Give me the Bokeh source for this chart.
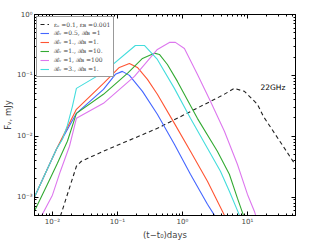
from bokeh.plotting import figure
from bokeh.models import (LogAxis, FixedTicker, CustomJSTickFormatter, Legend,
                          LegendItem, Range1d, Label)
from bokeh.embed import file_html
from bokeh.resources import INLINE

# ---------------- data ----------------
# dashed: eps_e = 0.1, eps_B = 0.001
t_dash = [0.0133, 0.0234, 0.0279, 0.061, 0.412, 4.12, 6.31, 9.0, 14.3, 17.6, 52.8]
F_dash = [0.00049, 0.00322, 0.00389, 0.00568, 0.0135, 0.047, 0.0612, 0.0547, 0.0335, 0.0213, 0.00361]

# R_v = 0.5, R_B = 1
t_blue = [0.00528, 0.01153, 0.0234, 0.061, 0.0931, 0.119, 0.153, 0.243, 0.412, 0.753, 1.33, 2.43, 3.10, 3.7]
F_blue = [0.001, 0.00612, 0.0238, 0.0589, 0.104, 0.1164, 0.1, 0.0547, 0.023, 0.0074, 0.00238, 0.000767, 0.000507, 0.00035]

# R_v = 1., R_B = 1.
t_red = [0.00528, 0.01153, 0.0234, 0.061, 0.107, 0.153, 0.203, 0.29, 0.412, 0.753, 1.33, 2.43, 4.43, 4.9]
F_red = [0.001, 0.00612, 0.0277, 0.0739, 0.135, 0.157, 0.135, 0.086, 0.0489, 0.0163, 0.00567, 0.00183, 0.000507, 0.0004]

# R_v = 1., R_B = 10.
t_green = [0.00528, 0.00838, 0.01194, 0.017, 0.0234, 0.061, 0.1426, 0.243, 0.37, 0.443, 0.588, 0.838, 1.70, 3.45, 5.28, 7.02, 8.67, 9.8]
F_green = [0.000589, 0.00163, 0.00361, 0.00828, 0.0238, 0.0489, 0.108, 0.19, 0.232, 0.221, 0.151, 0.0797, 0.0197, 0.00568, 0.00238, 0.000964, 0.000507, 0.00035]

# R_v = 1, R_B = 100
t_mag = [0.00678, 0.01, 0.01327, 0.0183, 0.0234, 0.061, 0.183, 0.412, 0.631, 0.78, 1.074, 1.70, 2.70, 4.43, 7.02, 10.0, 12.8, 14.3]
F_mag = [0.000489, 0.00108, 0.00267, 0.00686, 0.0197, 0.0348, 0.0963, 0.267, 0.348, 0.348, 0.277, 0.104, 0.0375, 0.0121, 0.00347, 0.00112, 0.000589, 0.000405]

# R_v = 3., R_B = 1.
t_cyan = [0.00528, 0.01153, 0.01426, 0.017, 0.0203, 0.0234, 0.061, 0.189, 0.26, 0.412, 0.753, 1.33, 2.43, 3.85, 5.28, 7.53, 8.4]
F_cyan = [0.001, 0.00612, 0.00893, 0.0151, 0.031, 0.0612, 0.112, 0.31, 0.31, 0.183, 0.0612, 0.0197, 0.00636, 0.00267, 0.00125, 0.000507, 0.00037]

labels = ["\u03b5\u2091 =0.1, \u03b5\u0299 =0.001",
          "\u211b\u1d65 =0.5, \u211b\u0299 =1",
          "\u211b\u1d65 =1., \u211b\u0299 =1.",
          "\u211b\u1d65 =1., \u211b\u0299 =10.",
          "\u211b\u1d65 =1, \u211b\u0299 =100",
          "\u211b\u1d65 =3., \u211b\u0299 =1."]

x_major = [1e-2, 1e-1, 1e0, 1e1]
y_major = [1e-3, 1e-2, 1e-1, 1e0]
x_minor = [m * d for d in [1e-3, 1e-2, 1e-1, 1e0, 1e1] for m in range(2, 10)]
y_minor = [m * d for d in [1e-4, 1e-3, 1e-2, 1e-1] for m in range(2, 10)]

# ---------------- figure ----------------
p = figure(frame_width=261, frame_height=201, x_axis_type="log", y_axis_type="log",
           x_range=Range1d(5.3e-3, 55), y_range=Range1d(5e-4, 1),
           output_backend="svg", toolbar_location=None,
           min_border_left=33, min_border_right=3, min_border_top=14,
           min_border_bottom=24)
p.grid.visible = False
p.outline_line_color = "black"
p.outline_line_width = 1
p.background_fill_color = "white"

fmt_code = """
const sup = {"-":"\u207b","0":"\u2070","1":"\u00b9","2":"\u00b2","3":"\u00b3","4":"\u2074","5":"\u2075","6":"\u2076","7":"\u2077","8":"\u2078","9":"\u2079"};
const e = Math.round(Math.log10(tick));
return "10" + String(e).split("").map(c => sup[c]).join("");
"""
blank_code = 'return "";'

def style_axis(ax, ticks, minor, labels_on=True):
    ax.ticker = FixedTicker(ticks=ticks, minor_ticks=minor)
    ax.major_tick_in = 4
    ax.major_tick_out = 0
    ax.minor_tick_in = 2
    ax.minor_tick_out = 0
    ax.axis_line_color = "black"
    ax.major_tick_line_color = "black"
    ax.minor_tick_line_color = "black"
    if labels_on:
        ax.formatter = CustomJSTickFormatter(code=fmt_code)
        ax.major_label_text_font = "DejaVu Sans"
        ax.major_label_text_font_size = "7px"
        ax.major_label_standoff = 2
    else:
        ax.formatter = CustomJSTickFormatter(code=blank_code)
        ax.major_label_text_font_size = "0px"
        ax.major_label_standoff = 0

style_axis(p.xaxis[0], x_major, x_minor)
style_axis(p.yaxis[0], y_major, y_minor)
p.xaxis[0].axis_label = "(t\u2212t\u2080)days"
p.yaxis[0].axis_label = "F\u1d65, mJy"
for ax in (p.xaxis[0], p.yaxis[0]):
    ax.axis_label_text_font = "DejaVu Sans"
    ax.axis_label_text_font_size = "8.5px"
    ax.axis_label_text_font_style = "normal"
    ax.axis_label_standoff = 1

top = LogAxis()
right = LogAxis()
style_axis(top, x_major, x_minor, labels_on=False)
style_axis(right, y_major, y_minor, labels_on=False)
p.add_layout(top, "above")
p.add_layout(right, "right")

r0 = p.line(t_dash, F_dash, line_color="#222222", line_width=1.1, line_dash="4 3")
r1 = p.line(t_blue, F_blue, line_color="#4466ff", line_width=1.1)
r2 = p.line(t_red, F_red, line_color="#ff5533", line_width=1.1)
r3 = p.line(t_green, F_green, line_color="#33aa33", line_width=1.1)
r4 = p.line(t_mag, F_mag, line_color="#dd77ee", line_width=1.1)
r5 = p.line(t_cyan, F_cyan, line_color="#44dddd", line_width=1.1)

p.add_layout(Label(x=15.9, y=0.064, text="22GHz", text_font="DejaVu Sans",
                   text_font_size="7.5px", text_baseline="middle", text_color="black"))

items = [LegendItem(label=lab, renderers=[r]) for lab, r in zip(labels, [r0, r1, r2, r3, r4, r5])]
legend = Legend(items=items, location="top_left", label_text_font="DejaVu Serif",
                label_text_font_size="6px", glyph_width=9, glyph_height=8,
                label_height=8, label_standoff=5, spacing=1, padding=3, margin=2,
                border_line_color="#333333", border_line_width=1.5,
                background_fill_color="white", background_fill_alpha=1)
p.add_layout(legend)

open("out.html", "w").write(file_html(p, INLINE))
